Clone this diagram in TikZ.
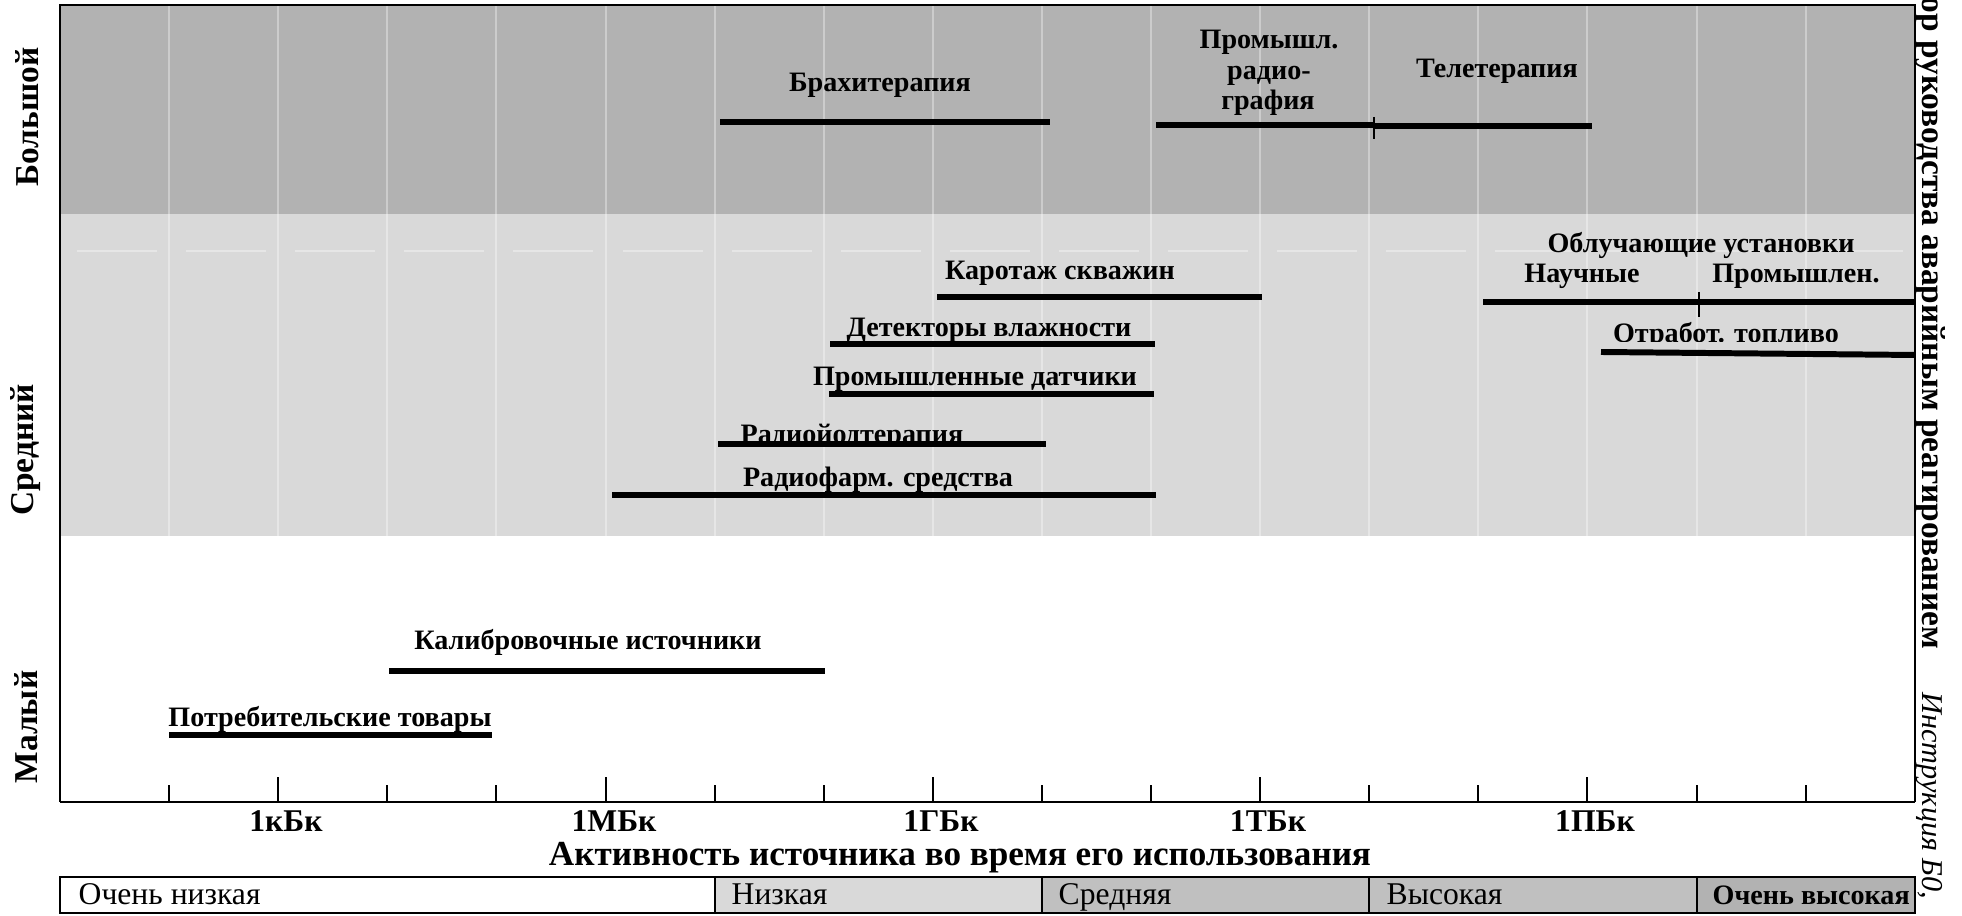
\documentclass[tikz,border=0pt]{standalone}
\usepackage{fontspec}
\setmainfont{Liberation Serif}
\definecolor{bandbig}{HTML}{B2B2B2}
\definecolor{bandmid}{HTML}{D9D9D9}
\definecolor{cellmid}{HTML}{C0C0C0}
\definecolor{cellhigh}{HTML}{B2B2B2}
\tikzset{
  usebar/.style={draw=black, line width=1.7pt},
  barlabel/.style={black, anchor=base, inner sep=0pt, font=\fontsize{8}{9.6}\selectfont\bfseries},
  ticklabel/.style={black, anchor=base, inner sep=0pt, font=\fontsize{9}{10.8}\selectfont\bfseries},
  sizelabel/.style={black, rotate=90, inner sep=0pt, font=\fontsize{9.5}{11.4}\selectfont\bfseries},
  celltext/.style={black, anchor=base west, inner sep=0pt, font=\fontsize{9}{10.8}\selectfont},
  gridline/.style={draw=white, opacity=0.35, line width=0.3pt},
}
\begin{document}
\begin{tikzpicture}
    \useasboundingbox (0.00,0.00) rectangle (19.62,-9.16);
    % bands of the size of the source
    \fill[bandbig] (0.60,-0.05) rectangle (19.15,-2.14);
    \fill[bandmid] (0.60,-2.14) rectangle (19.15,-5.36);
    \draw[gridline] (1.69,-0.05) -- (1.69,-5.36) (2.78,-0.05) -- (2.78,-5.36)
        (3.87,-0.05) -- (3.87,-5.36) (4.96,-0.05) -- (4.96,-5.36)
        (6.06,-0.05) -- (6.06,-5.36) (7.15,-0.05) -- (7.15,-5.36)
        (8.24,-0.05) -- (8.24,-5.36) (9.33,-0.05) -- (9.33,-5.36)
        (10.42,-0.05) -- (10.42,-5.36) (11.51,-0.05) -- (11.51,-5.36)
        (12.60,-0.05) -- (12.60,-5.36) (13.69,-0.05) -- (13.69,-5.36)
        (14.78,-0.05) -- (14.78,-5.36) (15.87,-0.05) -- (15.87,-5.36)
        (16.97,-0.05) -- (16.97,-5.36) (18.06,-0.05) -- (18.06,-5.36);
    \draw[gridline, dash pattern=on 8mm off 2.91mm] (0.77,-2.51) -- (19.15,-2.51);
    % frame and axis
    \draw[draw=black, line width=0.8pt] (0.60,-8.02) -- (0.60,-0.05) -- (19.15,-0.05) -- (19.15,-8.02);
    \draw[draw=black, line width=0.8pt] (0.60,-8.02) -- (19.15,-8.02);
    \draw[draw=black, line width=0.6pt] (2.78,-8.02) -- (2.78,-7.77) (6.06,-8.02) -- (6.06,-7.77)
        (9.33,-8.02) -- (9.33,-7.77) (12.60,-8.02) -- (12.60,-7.77) (15.87,-8.02) -- (15.87,-7.77);
    \draw[draw=black, line width=0.6pt] (1.69,-8.02) -- (1.69,-7.85) (3.87,-8.02) -- (3.87,-7.85)
        (4.96,-8.02) -- (4.96,-7.85) (7.15,-8.02) -- (7.15,-7.85) (8.24,-8.02) -- (8.24,-7.85)
        (10.42,-8.02) -- (10.42,-7.85) (11.51,-8.02) -- (11.51,-7.85) (13.69,-8.02) -- (13.69,-7.85)
        (14.78,-8.02) -- (14.78,-7.85) (16.97,-8.02) -- (16.97,-7.85) (18.06,-8.02) -- (18.06,-7.85);
    \node[ticklabel] (kbq) at (2.86,-8.32) {1кБк};
    \node[ticklabel] (mbq) at (6.14,-8.32) {1МБк};
    \node[ticklabel] (gbq) at (9.41,-8.32) {1ГБк};
    \node[ticklabel] (tbq) at (12.68,-8.32) {1ТБк};
    \node[ticklabel] (pbq) at (15.95,-8.32) {1ПБк};
    \node[ticklabel, font=\fontsize{10}{12}\selectfont\bfseries] (axistitle) at (9.60,-8.66) {Активность источника во время его использования};
    \node[sizelabel] (big) at (0.27,-1.17) {Большой};
    \node[sizelabel] (medium) at (0.26,-4.50) {Средний};
    \node[sizelabel] (small) at (0.26,-7.27) {Малый};
    % activity classes
    \draw[draw=black, line width=0.8pt] (0.60,-8.77) rectangle (7.15,-9.13);
    \draw[draw=black, line width=0.8pt, fill=bandmid] (7.15,-8.77) rectangle (10.42,-9.13);
    \draw[draw=black, line width=0.8pt, fill=cellmid] (10.42,-8.77) rectangle (13.69,-9.13);
    \draw[draw=black, line width=0.8pt, fill=cellmid] (13.69,-8.77) rectangle (16.97,-9.13);
    \draw[draw=black, line width=0.8pt, fill=cellhigh] (16.97,-8.77) rectangle (19.15,-9.13);
    \node[celltext] (verylow) at (0.78,-9.05) {Очень низкая};
    \node[celltext] (low) at (7.31,-9.05) {Низкая};
    \node[celltext] (mid) at (10.58,-9.05) {Средняя};
    \node[celltext] (high) at (13.86,-9.05) {Высокая};
    \node[celltext, font=\fontsize{8}{9.6}\selectfont\bfseries] (veryhigh) at (17.12,-9.05) {Очень высокая};
    % uses
    \node[barlabel] (brachy) at (8.80,-0.92) {Брахитерапия};
    \draw[usebar] (7.20,-1.22) -- (10.50,-1.22);
    \node[barlabel] (promrad1) at (12.69,-0.49) {Промышл.};
    \node[barlabel] (promrad2) at (12.69,-0.80) {радио-};
    \node[barlabel] (promrad3) at (12.68,-1.10) {графия};
    \draw[usebar] (11.56,-1.25) -- (13.74,-1.25);
    \draw[draw=black, line width=0.6pt] (13.74,-1.17) -- (13.74,-1.39);
    \node[barlabel] (tele) at (14.97,-0.78) {Телетерапия};
    \draw[usebar] (13.74,-1.26) -- (15.92,-1.26);
    \node[barlabel] (karotazh) at (10.60,-2.80) {Каротаж скважин};
    \draw[usebar] (9.37,-2.97) -- (12.62,-2.97);
    \node[barlabel] (moisture) at (9.89,-3.37) {Детекторы влажности};
    \draw[usebar] (8.30,-3.44) -- (11.55,-3.44);
    \node[barlabel] (gauges) at (9.75,-3.86) {Промышленные датчики};
    \draw[usebar] (8.29,-3.94) -- (11.54,-3.94);
    \begin{scope}
        \clip (7.00,-4.00) rectangle (10.00,-4.46);
        \node[barlabel] (iodine) at (8.52,-4.44) {Радиойодтерапия};
    \end{scope}
    \draw[usebar] (7.18,-4.44) -- (10.46,-4.44);
    \node[barlabel] (pharm) at (8.78,-4.87) {Радиофарм. средства};
    \draw[usebar] (6.12,-4.95) -- (11.56,-4.95);
    \node[barlabel] (irrad) at (17.01,-2.53) {Облучающие установки};
    \node[barlabel] (science) at (15.82,-2.83) {Научные};
    \node[barlabel] (industry) at (17.96,-2.83) {Промышлен.};
    \draw[usebar] (14.83,-3.02) -- (19.15,-3.02);
    \draw[draw=black, line width=0.6pt] (16.99,-2.92) -- (16.99,-3.17);
    \begin{scope}
        \clip (15.80,-3.10) rectangle (18.80,-3.42);
        \node[barlabel] (fuel) at (17.26,-3.43) {Отработ. топливо};
    \end{scope}
    \draw[usebar] (16.01,-3.52) -- (19.15,-3.55);
    \node[barlabel] (calib) at (5.88,-6.50) {Калибровочные источники};
    \draw[usebar] (3.89,-6.71) -- (8.25,-6.71);
    \node[barlabel] (consumer) at (3.30,-7.27) {Потребительские товары};
    \draw[usebar] (1.69,-7.35) -- (4.92,-7.35);
    % page header
    \node[black, rotate=-90, anchor=base west, inner sep=0pt, font=\fontsize{9.5}{11.4}\selectfont\bfseries] (header) at (19.22,0.04) {ор руководства аварийным реагированием};
    \node[black, rotate=-90, anchor=base west, inner sep=0pt, font=\fontsize{8.6}{10.3}\selectfont\itshape] (docref) at (19.22,-6.92) {Инструкция Б0,};
\end{tikzpicture}
\end{document}
